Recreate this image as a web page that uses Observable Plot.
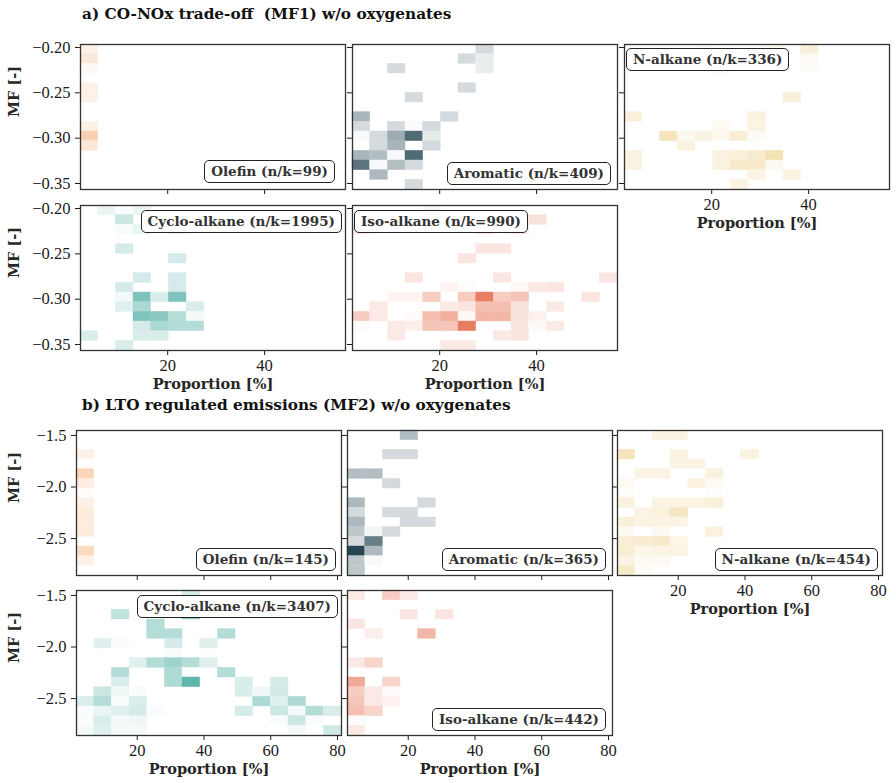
<!DOCTYPE html>
<html>
<head>
<meta charset="utf-8">
<script src="https://cdn.jsdelivr.net/npm/d3@7"></script>
<script src="https://cdn.jsdelivr.net/npm/@observablehq/plot@0.6"></script>
<style>
html,body{margin:0;padding:0;background:#fff;}
#fig{position:relative;width:896px;height:783px;overflow:hidden;background:#fff;}
#fig svg{position:absolute;}
.title{position:absolute;white-space:pre;font:bold 15.3px "DejaVu Serif",serif;color:#111;line-height:19px;}
.tag{position:absolute;box-sizing:border-box;height:23px;padding:0 6px;border:1.3px solid #222;border-radius:5px;background:#fff;font:bold 13.5px "DejaVu Serif",serif;color:#333;line-height:20px;white-space:nowrap;}
</style>
</head>
<body>
<div id="fig"></div>
<script>
// ---------------- data ----------------
const classes = ["Olefin", "Aromatic", "N-alkane", "Cyclo-alkane", "Iso-alkane"];
const classColors = ["#f4a261", "#264653", "#e9c46a", "#2a9d8f", "#e76f51"];

const titleA = "a) CO-NOx trade-off  (MF1) w/o oxygenates";
const titleB = "b) LTO regulated emissions (MF2) w/o oxygenates";

const nkA = [99, 409, 336, 1995, 990];
const nkB = [145, 365, 454, 3407, 442];

const nBins = 15;
const proportionRangeA = [2.0, 56.7];
const mfRangeA = [-0.3566, -0.1967];
const proportionRangeB = [1.8, 81.2];
const mfRangeB = [-2.858, -1.452];

const xTicksA = [20, 40];
const yTicksA = [-0.20, -0.25, -0.30, -0.35];
const xTicksB = [20, 40, 60, 80];
const yTicksB = [-1.5, -2.0, -2.5];

// cells: [proportion bin, MF bin counted from the top, relative density]
const olefinA = [[0,0,0.15],[0,1,0.25],[0,2,0.07],[0,4,0.15],[0,5,0.15],[0,8,0.15],[0,9,0.5],[0,10,0.25]];
const aromaticA = [
 [7,0,0.2],[6,1,0.2],[7,1,0.1],[7,2,0.1],[2,2,0.2],[6,4,0.2],[3,5,0.2],
 [0,7,0.4],[5,7,0.2],
 [0,8,0.2],[2,8,0.2],[3,8,0.02],[4,8,0.2],
 [0,9,0.03],[1,9,0.2],[2,9,0.45],[3,9,0.8],[4,9,0.12],
 [1,10,0.2],[2,10,0.4],[4,10,0.2],
 [0,11,0.4],[1,11,0.35],[2,11,0.03],[3,11,0.8],
 [0,12,0.75],[1,12,0.03],[2,12,0.35],[3,12,0.2],
 [1,13,0.38],[3,14,0.2]];
const nalkaneA = [
 [4,0,0.1],[8,0,0.08],[10,0,0.25],[10,1,0.08],[10,2,0.05],[5,2,0.06],
 [9,5,0.25],[0,7,0.25],[7,7,0.2],[5,8,0.08],[7,8,0.2],
 [2,9,0.45],[3,9,0.12],[4,9,0.2],[5,9,0.12],[6,9,0.28],[7,9,0.06],
 [3,10,0.2],
 [0,11,0.2],[5,11,0.2],[6,11,0.25],[7,11,0.32],[8,11,0.5],
 [0,12,0.2],[5,12,0.2],[6,12,0.35],[7,12,0.35],[8,12,0.1],
 [7,13,0.18],[9,13,0.2],[6,14,0.2]];
const cycloA = [
 [1,0,0.1],[2,0,0.03],[3,0,0.1],[2,1,0.25],[2,2,0.03],[3,2,0.1],[5,2,0.1],
 [2,4,0.2],[5,5,0.2],[3,7,0.2],[5,7,0.2],[2,8,0.2],[5,8,0.2],
 [2,9,0.06],[3,9,0.6],[4,9,0.18],[5,9,0.6],
 [2,10,0.15],[3,10,0.4],[6,10,0.18],
 [3,11,0.6],[4,11,0.55],[5,11,0.35],[6,11,0.05],
 [3,12,0.2],[4,12,0.4],[5,12,0.35],[6,12,0.35],
 [0,13,0.18],[3,13,0.18],[4,13,0.18],[2,14,0.18]];
const isoA = [
 [4,0,0.08],[10,1,0.2],[0,2,0.15],[7,2,0.15],[9,2,0.15],
 [7,4,0.18],[8,4,0.18],[6,5,0.18],[3,7,0.18],[8,7,0.18],[14,7,0.18],
 [5,8,0.08],[6,8,0.02],[9,8,0.05],[10,8,0.15],[11,8,0.18],
 [2,9,0.08],[3,9,0.08],[4,9,0.35],[6,9,0.35],[7,9,0.9],[8,9,0.35],[9,9,0.4],[13,9,0.18],
 [1,10,0.15],[5,10,0.15],[6,10,0.18],[7,10,0.45],[8,10,0.45],[9,10,0.2],[11,10,0.15],
 [0,11,0.35],[1,11,0.15],[3,11,0.03],[4,11,0.45],[5,11,0.55],[6,11,0.05],[7,11,0.5],[8,11,0.5],[9,11,0.2],[10,11,0.1],
 [0,12,0.03],[2,12,0.15],[3,12,0.12],[4,12,0.4],[5,12,0.4],[6,12,0.9],[9,12,0.18],[10,12,0.04],[11,12,0.15],
 [2,13,0.15],[8,13,0.15],[9,13,0.18],[5,14,0.15],[6,14,0.15]];

const olefinB = [[0,2,0.15],[0,4,0.45],[0,5,0.2],[0,6,0.03],[0,7,0.15],[0,8,0.22],[0,9,0.2],[0,10,0.22],[0,12,0.4],[0,13,0.15]];
const aromaticB = [
 [3,0,0.35],[2,2,0.2],[3,2,0.2],[0,4,0.35],[1,4,0.35],[2,5,0.2],
 [0,7,0.38],[4,7,0.2],[0,8,0.2],[2,8,0.2],[3,8,0.2],
 [0,9,0.38],[3,9,0.2],[4,9,0.2],[0,10,0.3],[1,10,0.05],[2,10,0.2],
 [0,11,0.2],[1,11,0.7],[0,12,1.0],[1,12,0.38],[0,13,0.3],[1,13,0.03],[0,14,0.3]];
const nalkaneB = [
 [2,0,0.2],[3,0,0.2],[0,2,0.45],[3,2,0.2],[7,2,0.2],[3,3,0.18],[4,3,0.18],
 [1,4,0.18],[2,4,0.18],[5,4,0.22],[0,5,0.08],[4,5,0.22],[5,5,0.08],[0,6,0.04],[5,6,0.03],
 [0,7,0.22],[2,7,0.18],[3,7,0.18],[4,7,0.18],[5,7,0.25],
 [1,8,0.18],[2,8,0.22],[3,8,0.4],[0,9,0.25],[1,9,0.18],[2,9,0.18],[3,9,0.18],
 [0,10,0.08],[2,10,0.08],[5,10,0.22],
 [0,11,0.28],[1,11,0.3],[2,11,0.35],[3,11,0.15],
 [0,12,0.3],[1,12,0.15],[2,12,0.18],[3,12,0.18],
 [0,13,0.18],[1,13,0.08],[2,13,0.08],[0,14,0.35],[1,14,0.05]];
const cycloB = [
 [6,0,0.2],[2,2,0.3],[6,2,0.55],[4,3,0.35],[4,4,0.35],[5,4,0.35],[8,4,0.35],
 [1,5,0.15],[2,5,0.02],[5,5,0.2],[7,5,0.15],[5,6,0.03],
 [3,7,0.15],[4,7,0.35],[5,7,0.45],[6,7,0.35],[7,7,0.15],
 [2,8,0.35],[5,8,0.38],[6,8,0.03],[8,8,0.35],
 [2,9,0.18],[5,9,0.38],[6,9,0.75],[9,9,0.18],[11,9,0.2],
 [1,10,0.25],[2,10,0.08],[3,10,0.03],[9,10,0.18],[10,10,0.08],[11,10,0.22],
 [0,11,0.18],[1,11,0.35],[2,11,0.03],[3,11,0.18],[10,11,0.38],[11,11,0.15],[12,11,0.38],
 [0,12,0.03],[1,12,0.1],[2,12,0.15],[3,12,0.2],[4,12,0.03],[9,12,0.2],[11,12,0.25],[12,12,0.05],[13,12,0.35],[14,12,0.18],
 [0,13,0.02],[1,13,0.18],[2,13,0.05],[3,13,0.08],[11,13,0.03],[12,13,0.25],[13,13,0.03],
 [0,14,0.06],[1,14,0.15],[2,14,0.05],[3,14,0.05],[12,14,0.06],[14,14,0.22]];
const isoB = [
 [0,0,0.15],[2,0,0.35],[3,0,0.15],[3,2,0.18],[5,2,0.18],[0,3,0.18],
 [1,4,0.12],[4,4,0.5],[0,7,0.15],[1,7,0.3],[0,9,0.6],[2,9,0.3],
 [0,10,0.35],[1,10,0.15],[2,10,0.03],[0,11,0.4],[1,11,0.15],[2,11,0.1],
 [0,12,0.45],[1,12,0.3],[0,13,0.03],[0,14,0.15]];

// ---------------- layout ----------------
const PW = 265, PH = 145;
const M = {l: 85, r: 12, t: 12, b: 50};
const sections = [
  {title: titleA, titleTop: 5, xr: proportionRangeA, yr: mfRangeA, xt: xTicksA, yt: yTicksA, yf: d3.format(".2f"), nk: nkA,
   cells: [olefinA, aromaticA, nalkaneA, cycloA, isoA],
   pos: [[80,44],[352,44],[623.5,44],[80,205],[352,205]],
   tags: [{r:335,b:183},{r:611,b:185},{l:626,t:48},{r:342,t:210},{l:354,t:210}]},
  {title: titleB, titleTop: 396, xr: proportionRangeB, yr: mfRangeB, xt: xTicksB, yt: yTicksB, yf: d3.format(".1f"), nk: nkB,
   cells: [olefinB, aromaticB, nalkaneB, cycloB, isoB],
   pos: [[76,430],[347.3,430],[617.3,430],[76,590],[347.3,590]],
   tags: [{r:336,b:571},{r:606,b:571},{r:878,b:571},{r:338,t:595},{r:606,t:708}]}
];
const showXLabels = [false, false, true, true, true];
const showYLabels = [true, false, false, true, false];

const fig = document.getElementById("fig");

for (const sec of sections) {
  const t = document.createElement("div");
  t.className = "title";
  t.textContent = sec.title;
  t.style.left = "82px"; t.style.top = sec.titleTop + "px";
  fig.appendChild(t);

  const xs = (sec.xr[1] - sec.xr[0]) / nBins;
  const ys = (sec.yr[1] - sec.yr[0]) / nBins;

  classes.forEach((cls, k) => {
    const [px, py] = sec.pos[k];
    const data = sec.cells[k].map(([c, r, v]) => ({
      x1: sec.xr[0] + c * xs, x2: sec.xr[0] + (c + 1) * xs,
      y1: sec.yr[1] - r * ys, y2: sec.yr[1] - (r + 1) * ys, v
    }));
    const marks = [
      Plot.rect(data, {x1: "x1", x2: "x2", y1: "y1", y2: "y2", fill: "v", stroke: "v", strokeWidth: 0.4}),
      Plot.frame({stroke: "#333", strokeWidth: 1.3})
    ];
    if (showXLabels[k]) marks.push(Plot.text(["Proportion [%]"], {frameAnchor: "bottom", dy: 38,
      fontFamily: "DejaVu Serif", fontWeight: "bold", fontSize: 14.5, fill: "#262626"}));
    if (showYLabels[k]) marks.push(Plot.text(["MF [-]"], {frameAnchor: "left", dx: 14 - px, rotate: -90,
      fontFamily: "DejaVu Serif", fontWeight: "bold", fontSize: 14.5, fill: "#262626"}));
    const svg = Plot.plot({
      width: PW + M.l + M.r, height: PH + M.t + M.b,
      marginLeft: M.l, marginRight: M.r, marginTop: M.t, marginBottom: M.b,
      style: {background: "transparent", overflow: "visible", fontFamily: '"Liberation Serif", serif', fontSize: "16.5px", color: "#1a1a1a"},
      x: {domain: sec.xr, ticks: sec.xt, tickSize: 5, tickPadding: 4, label: null,
          tickFormat: showXLabels[k] ? d3.format("d") : () => ""},
      y: {domain: sec.yr, ticks: sec.yt, tickSize: 5, tickPadding: 5, label: null,
          tickFormat: showYLabels[k] ? sec.yf : () => ""},
      color: {type: "linear", domain: [0, 1], range: ["#ffffff", classColors[k]], interpolate: "rgb"},
      marks
    });
    svg.style.position = "absolute";
    svg.style.left = (px - M.l) + "px";
    svg.style.top = (py - M.t) + "px";
    fig.appendChild(svg);
  });

  classes.forEach((cls, k) => {
    const tg = sec.tags[k];
    const d = document.createElement("div");
    d.className = "tag";
    d.textContent = `${cls} (n/k=${sec.nk[k]})`;
    if (tg.l != null) d.style.left = tg.l + "px";
    if (tg.r != null) d.style.right = (896 - tg.r) + "px";
    if (tg.t != null) d.style.top = tg.t + "px";
    if (tg.b != null) d.style.bottom = (783 - tg.b) + "px";
    fig.appendChild(d);
  });
}
</script>
</body>
</html>
